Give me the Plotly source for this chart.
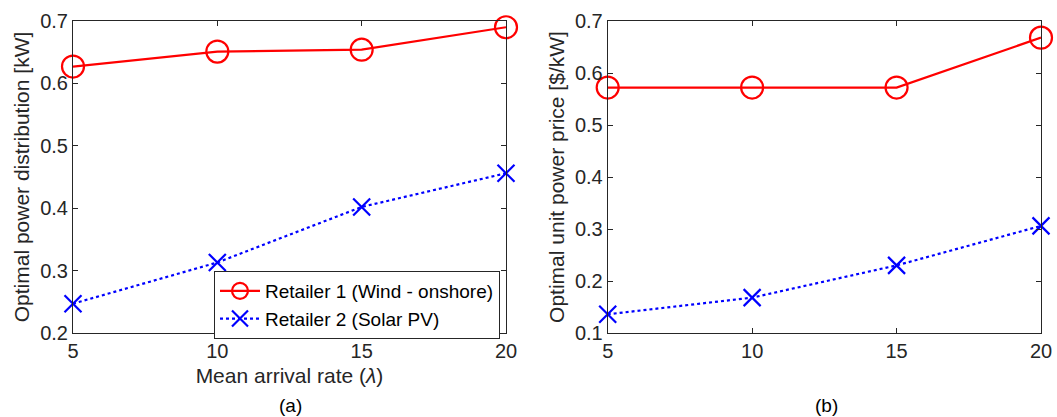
import plotly.graph_objects as go

arrival_rate = [5, 10, 15, 20]
power_r1 = [0.627, 0.651, 0.654, 0.690]
power_r2 = [0.247, 0.313, 0.402, 0.456]
price_r1 = [0.572, 0.572, 0.572, 0.668]
price_r2 = [0.136, 0.168, 0.230, 0.306]
name_r1 = "Retailer 1 (Wind - onshore)"
name_r2 = "Retailer 2 (Solar PV)"

W, H = 1057, 417
FONT = "Liberation Sans, Arial, Helvetica, sans-serif"
AX = "#262626"

fig = go.Figure()

def add(x, y, name, color, dash, symbol, xa, ya, show):
    fig.add_trace(go.Scatter(
        x=x, y=y, name=name, mode="lines+markers",
        line=dict(color=color, width=2.2, dash=dash),
        marker=dict(symbol=symbol, size=22 if symbol == "circle-open" else 17,
                    color=color, line=dict(color=color, width=2.2)),
        xaxis=xa, yaxis=ya, showlegend=show, cliponaxis=False))

add(arrival_rate, power_r1, name_r1, "#ff0000", "solid", "circle-open", "x", "y", True)
add(arrival_rate, power_r2, name_r2, "#0000ff", "dot", "x-thin-open", "x", "y", True)
add(arrival_rate, price_r1, name_r1, "#ff0000", "solid", "circle-open", "x2", "y2", False)
add(arrival_rate, price_r2, name_r2, "#0000ff", "dot", "x-thin-open", "x2", "y2", False)

axcommon = dict(showline=True, linecolor=AX, linewidth=1, mirror="ticks",
                ticks="inside", ticklen=5, tickcolor=AX, showgrid=False,
                zeroline=False, automargin=False,
                tickfont=dict(family=FONT, size=20, color=AX))

ydom = [(H - 333) / H, (H - 21) / H]
fig.update_layout(
    width=W, height=H, margin=dict(l=0, r=0, t=0, b=0),
    paper_bgcolor="white", plot_bgcolor="white",
    font=dict(family=FONT, color=AX),
    xaxis=dict(domain=[73 / W, 506 / W], range=[5, 20], tickvals=[5, 10, 15, 20],
               title=dict(text="Mean arrival rate (<i>λ</i>)", font=dict(size=21, color=AX), standoff=7),
               anchor="y", **axcommon),
    yaxis=dict(domain=ydom, range=[0.2, 0.7], dtick=0.1, tickformat=".1f",
               title=dict(text="Optimal power distribution [kW]", font=dict(size=21, color=AX), standoff=4),
               anchor="x", **axcommon),
    xaxis2=dict(domain=[607.7 / W, 1041 / W], range=[5, 20], tickvals=[5, 10, 15, 20],
                anchor="y2", **axcommon),
    yaxis2=dict(domain=ydom, range=[0.1, 0.7], dtick=0.1, tickformat=".1f",
                title=dict(text="Optimal unit power price [$/kW]", font=dict(size=21, color=AX), standoff=4),
                anchor="x2", **axcommon),
    legend=dict(x=500 / W, y=(H - 271) / H, xanchor="right", yanchor="top",
                bordercolor=AX, borderwidth=1, bgcolor="white",
                font=dict(family=FONT, size=19, color="black"),
                tracegroupgap=0, itemwidth=40),
    annotations=[
        dict(text="(a)", x=290 / W, y=(H - 405) / H, xref="paper", yref="paper",
             xanchor="center", yanchor="middle",
             showarrow=False, font=dict(family=FONT, size=19, color="black")),
        dict(text="(b)", x=826 / W, y=(H - 405) / H, xref="paper", yref="paper",
             xanchor="center", yanchor="middle",
             showarrow=False, font=dict(family=FONT, size=19, color="black")),
    ],
)

fig.write_html("out.html")
